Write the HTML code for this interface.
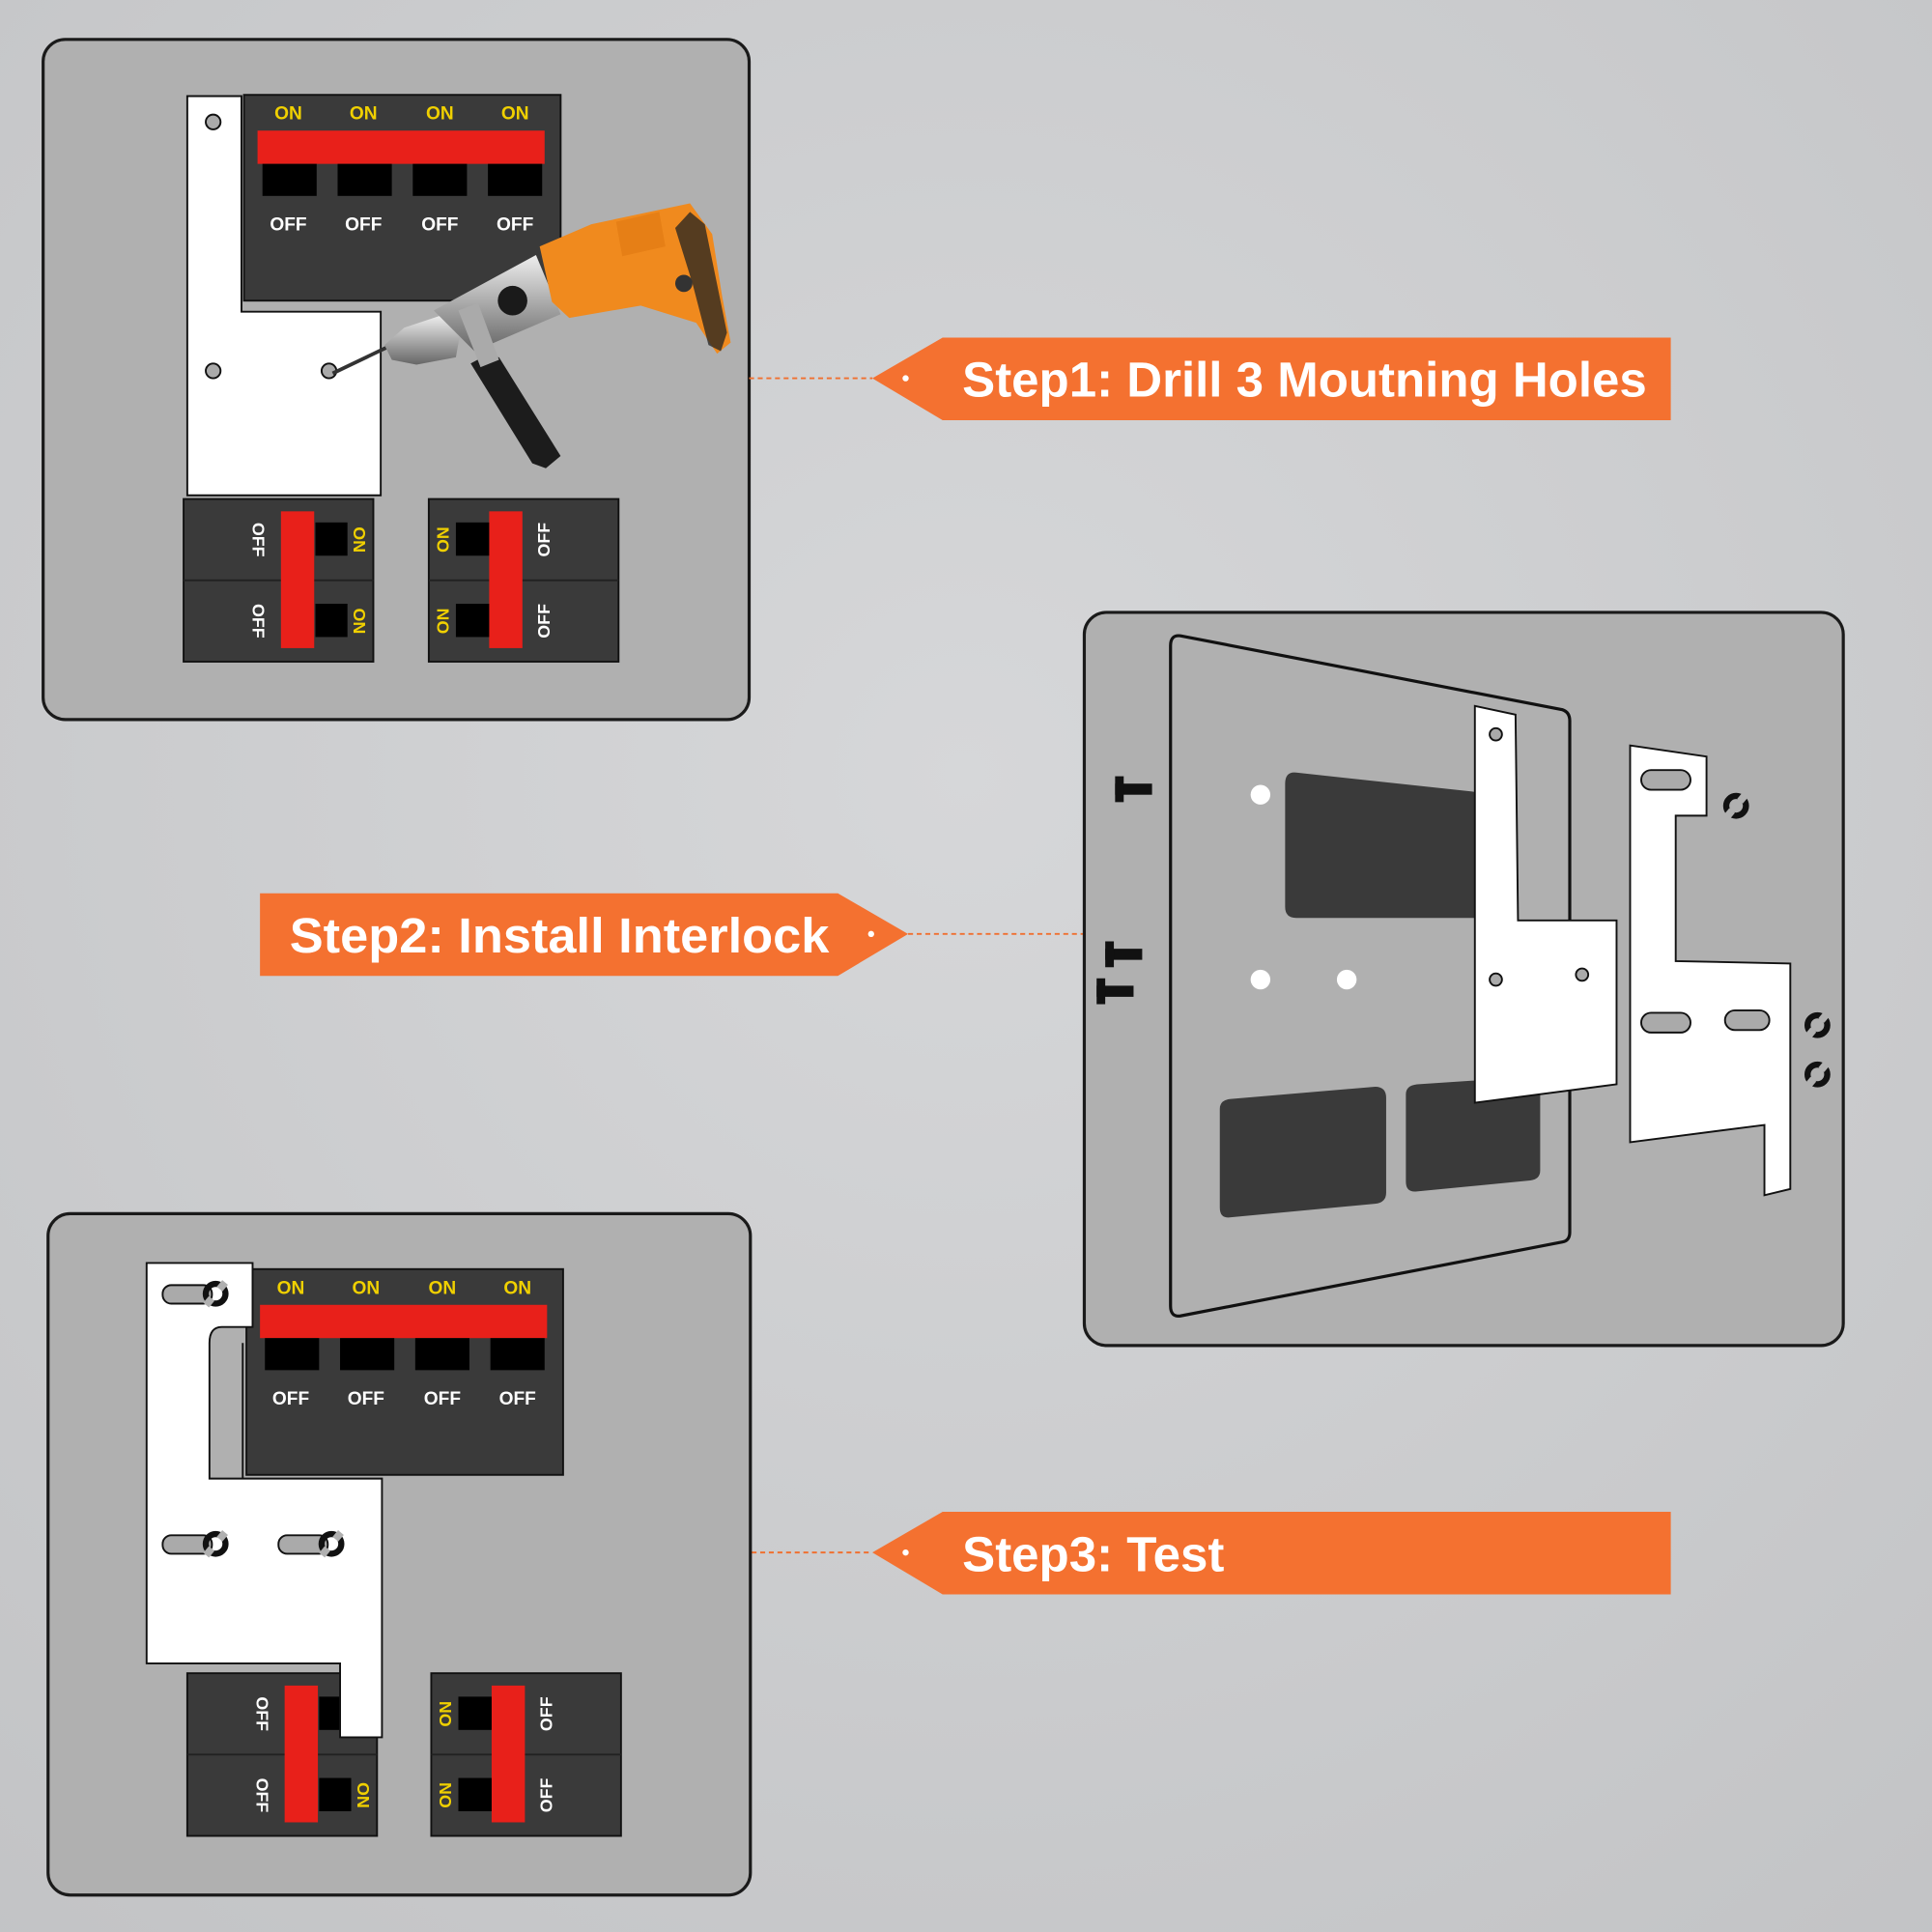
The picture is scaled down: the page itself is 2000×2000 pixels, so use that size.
<!DOCTYPE html>
<html><head><meta charset="utf-8"><style>
html,body{margin:0;padding:0;width:2000px;height:2000px;overflow:hidden;background:#c9cacc}
svg{display:block}
text{font-family:"Liberation Sans",sans-serif;font-weight:bold}
</style></head><body>
<svg width="2000" height="2000" viewBox="0 0 1568 1568" xmlns="http://www.w3.org/2000/svg">
<defs>
<radialGradient id="bg" cx="0.5" cy="0.4" r="0.8"><stop offset="0" stop-color="#d6d7d9"/><stop offset="1" stop-color="#c2c3c5"/></radialGradient>
<linearGradient id="sil" x1="0" y1="0" x2="0" y2="1"><stop offset="0" stop-color="#eee"/><stop offset="0.5" stop-color="#aaa"/><stop offset="1" stop-color="#666"/></linearGradient>
<g id="ring"><circle r="8" fill="none" stroke="#111" stroke-width="5"/><rect x="-3" y="-12" width="6" height="7" fill="#b0b0b0" transform="rotate(40)"/><rect x="-3" y="5" width="6" height="7" fill="#b0b0b0" transform="rotate(40)"/></g>
<g id="top4">
<rect x="0" y="0" width="257" height="167" fill="#3a3a3a" stroke="#111" stroke-width="1.5"/>
<g fill="#f0d000" font-size="15" text-anchor="middle"><text x="36" y="20">ON</text><text x="97" y="20">ON</text><text x="159" y="20">ON</text><text x="220" y="20">ON</text></g>
<rect x="11" y="29" width="233" height="27" fill="#e8201a"/>
<g fill="#000"><rect x="15" y="56" width="44" height="26"/><rect x="76" y="56" width="44" height="26"/><rect x="137" y="56" width="44" height="26"/><rect x="198" y="56" width="44" height="26"/></g>
<g fill="#fff" font-size="15" text-anchor="middle"><text x="36" y="110">OFF</text><text x="97" y="110">OFF</text><text x="159" y="110">OFF</text><text x="220" y="110">OFF</text></g>
</g>
<g id="brkL">
<rect x="0" y="0" width="154" height="132" fill="#3a3a3a" stroke="#111" stroke-width="1.5"/>
<line x1="0" y1="66" x2="154" y2="66" stroke="#222" stroke-width="1.5"/>
<rect x="79" y="10" width="27" height="111" fill="#e8201a"/>
<rect x="107" y="19" width="26" height="27" fill="#000"/><rect x="107" y="85" width="26" height="27" fill="#000"/>
<g font-size="14"><text transform="translate(56,33) rotate(90)" fill="#fff" text-anchor="middle">OFF</text><text transform="translate(56,99) rotate(90)" fill="#fff" text-anchor="middle">OFF</text>
<text transform="translate(138,33) rotate(90)" fill="#f0d000" text-anchor="middle">ON</text><text transform="translate(138,99) rotate(90)" fill="#f0d000" text-anchor="middle">ON</text></g>
</g>
<g id="brkR">
<rect x="0" y="0" width="154" height="132" fill="#3a3a3a" stroke="#111" stroke-width="1.5"/>
<line x1="0" y1="66" x2="154" y2="66" stroke="#222" stroke-width="1.5"/>
<rect x="49" y="10" width="27" height="111" fill="#e8201a"/>
<rect x="22" y="19" width="27" height="27" fill="#000"/><rect x="22" y="85" width="27" height="27" fill="#000"/>
<g font-size="14"><text transform="translate(16,33) rotate(-90)" fill="#f0d000" text-anchor="middle">ON</text><text transform="translate(16,99) rotate(-90)" fill="#f0d000" text-anchor="middle">ON</text>
<text transform="translate(98,33) rotate(-90)" fill="#fff" text-anchor="middle">OFF</text><text transform="translate(98,99) rotate(-90)" fill="#fff" text-anchor="middle">OFF</text></g>
</g>
</defs>
<rect width="1568" height="1568" fill="url(#bg)"/>

<!-- Panel 1 -->
<rect x="35" y="32" width="573" height="552" rx="18" fill="#b0b0b0" stroke="#1a1a1a" stroke-width="2.5"/>
<path d="M152,78 H196 V253 H309 V402 H152 Z" fill="#fff" stroke="#111" stroke-width="1.5"/>
<g fill="#aaa" stroke="#111" stroke-width="1.5"><circle cx="173" cy="99" r="6"/><circle cx="173" cy="301" r="6"/><circle cx="267" cy="301" r="6"/></g>
<use href="#top4" x="198" y="77"/>
<use href="#brkL" x="149" y="405"/>
<use href="#brkR" x="348" y="405"/>
<!-- drill -->
<g>
<line x1="270" y1="303" x2="318" y2="280" stroke="#333" stroke-width="3"/>
<path d="M382,295 L395,288 L405,290 L455,370 L443,380 L432,376 Z" fill="#1c1c1c"/>
<path d="M312,280 L328,266 L358,256 L375,262 L370,290 L338,296 L318,292 Z" fill="url(#sil)"/>
<path d="M352,252 L435,207 L455,255 L385,285 Z" fill="url(#sil)"/>
<path d="M372,252 L388,246 L405,292 L390,298 Z" fill="#aaa"/>
<circle cx="416" cy="244" r="12" fill="#1a1a1a"/>
<path d="M438,200 L480,182 L560,165 L578,190 L586,240 L593,278 L582,287 L565,262 L520,248 L462,258 L448,245 Z" fill="#f08a1e"/>
<path d="M560,172 L572,182 L590,270 L585,285 L575,280 L562,230 L548,185 Z" fill="#222" opacity="0.75"/>
<circle cx="555" cy="230" r="7" fill="#333"/>
<path d="M500,180 L535,172 L540,200 L505,208 Z" fill="#e07810" opacity="0.6"/>
</g>

<!-- Step1 -->
<line x1="608" y1="307" x2="708" y2="307" stroke="#f07030" stroke-width="1.5" stroke-dasharray="4,3"/>
<polygon points="708,307 765,274 1356,274 1356,341 765,341" fill="#f47130"/>
<circle cx="735" cy="307" r="2.5" fill="#fff"/>
<text x="781" y="322" fill="#fff" font-size="40">Step1: Drill 3 Moutning Holes</text>

<!-- Step2 -->
<polygon points="211,725 680,725 737,758 680,792 211,792" fill="#f47130"/>
<circle cx="707" cy="758" r="2.5" fill="#fff"/>
<text x="235" y="773" fill="#fff" font-size="40" textLength="438" lengthAdjust="spacingAndGlyphs">Step2: Install Interlock</text>
<line x1="737" y1="758" x2="880" y2="758" stroke="#f07030" stroke-width="1.5" stroke-dasharray="4,3"/>

<!-- Panel 2 -->
<rect x="880" y="497" width="616" height="595" rx="18" fill="#b0b0b0" stroke="#1a1a1a" stroke-width="2.5"/>
<path d="M958,516 L1268,576 Q1274,578 1274,585 L1274,1000 Q1274,1007 1268,1008 L958,1068 Q950,1069 950,1060 L950,524 Q950,515 958,516 Z" fill="#b0b0b0" stroke="#111" stroke-width="2.5"/>
<g fill="#3a3a3a">
<path d="M1052,627 L1200,643 L1200,745 L1052,745 Q1043,745 1043,736 L1043,636 Q1043,626 1052,627 Z"/>
<path d="M998,892 L1116,882 Q1125,882 1125,891 L1125,968 Q1125,976 1116,977 L998,988 Q990,989 990,980 L990,900 Q990,893 998,892 Z"/>
<path d="M1150,880 L1242,874 Q1250,874 1250,882 L1250,950 Q1250,957 1242,958 L1150,967 Q1141,968 1141,959 L1141,888 Q1141,881 1150,880 Z"/>
</g>
<g fill="#fff"><circle cx="1023" cy="645" r="8"/><circle cx="1023" cy="795" r="8"/><circle cx="1093" cy="795" r="8"/></g>
<path d="M1197,573 L1230,580 L1232,747 L1312,747 L1312,880 L1197,895 Z" fill="#fff" stroke="#111" stroke-width="1.5"/>
<g fill="#aaa" stroke="#111" stroke-width="1.5"><circle cx="1214" cy="596" r="5"/><circle cx="1214" cy="795" r="5"/><circle cx="1284" cy="791" r="5"/></g>
<path d="M1323,605 L1385,614 L1385,662 L1360,662 L1360,780 L1453,782 L1453,965 L1432,970 L1432,913 L1323,927 Z" fill="#fff" stroke="#111" stroke-width="1.5"/>
<g fill="#aaa" stroke="#111" stroke-width="1.5"><rect x="1332" y="625" width="40" height="16" rx="8"/><rect x="1332" y="822" width="40" height="16" rx="8"/><rect x="1400" y="820" width="36" height="16" rx="8"/></g>
<use href="#ring" x="1409" y="654"/><use href="#ring" x="1475" y="832"/><use href="#ring" x="1475" y="872"/>
<g fill="#111">
<rect x="905" y="636" width="30" height="9"/><rect x="905" y="630" width="7" height="21"/>
<rect x="897" y="770" width="30" height="9"/><rect x="897" y="764" width="7" height="21"/>
<rect x="890" y="800" width="30" height="9"/><rect x="890" y="794" width="7" height="21"/>
</g>

<!-- Step3 -->
<line x1="610" y1="1260" x2="708" y2="1260" stroke="#f07030" stroke-width="1.5" stroke-dasharray="4,3"/>
<polygon points="708,1260 765,1227 1356,1227 1356,1294 765,1294" fill="#f47130"/>
<circle cx="735" cy="1260" r="2.5" fill="#fff"/>
<text x="781" y="1275" fill="#fff" font-size="40">Step3: Test</text>

<!-- Panel 3 -->
<rect x="39" y="985" width="570" height="553" rx="18" fill="#b0b0b0" stroke="#1a1a1a" stroke-width="2.5"/>
<use href="#top4" x="200" y="1030"/>
<use href="#brkL" x="152" y="1358"/>
<use href="#brkR" x="350" y="1358"/>
<path d="M119,1025 H205 V1077 H180 Q170,1077 170,1090 V1200 H310 V1410 H276 V1350 H119 Z" fill="#fff" stroke="#111" stroke-width="1.5"/>
<path d="M197,1090 V1200" stroke="#111" stroke-width="1.5"/>
<g fill="#aaa" stroke="#111" stroke-width="1.5"><rect x="132" y="1043" width="40" height="15" rx="7"/><rect x="132" y="1246" width="40" height="15" rx="7"/><rect x="226" y="1246" width="40" height="15" rx="7"/></g>
<use href="#ring" x="175" y="1050"/><use href="#ring" x="175" y="1253"/><use href="#ring" x="269" y="1253"/>
</svg>
</body></html>
